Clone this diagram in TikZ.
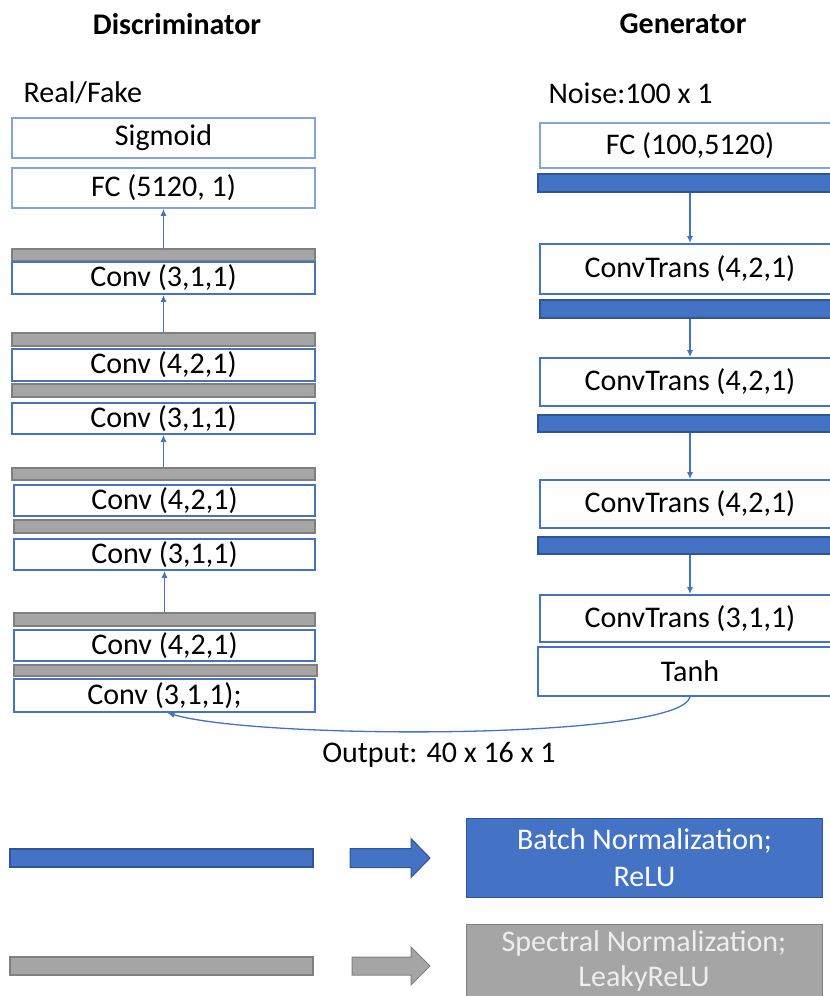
\documentclass[tikz,border=0pt]{standalone}
\usepackage{fontspec}
\setmainfont{Carlito}
\usetikzlibrary{arrows.meta}
\definecolor{netblue}{HTML}{4472C4}
\definecolor{netblueedge}{HTML}{2F5597}
\definecolor{lightedge}{RGB}{127,165,218}
\definecolor{normgray}{HTML}{A5A5A5}
\definecolor{grayedge}{HTML}{7F7F7F}
\definecolor{paletext}{HTML}{EEEEEE}
\tikzset{
  layer/.style={draw=netblue, line width=1.8pt, fill=white, inner sep=0pt,
    font=\fontsize{30}{36}\selectfont},
  edgelayer/.style={layer, draw=lightedge},
  bnbar/.style={draw=netblueedge, line width=1.2pt, fill=netblue, inner sep=0pt},
  snbar/.style={draw=grayedge, line width=1.2pt, fill=normgray, inner sep=0pt},
  flow/.style={draw=netblue, line width=1.3pt, -{Latex[length=7pt,width=6pt]}},
  title/.style={font=\fontsize{30}{36}\selectfont\bfseries},
  caption/.style={font=\fontsize{30}{36}\selectfont},
}
\begin{document}
\begin{tikzpicture}[x=1pt,y=-1pt]
\useasboundingbox (0,0) rectangle (830,996);

% headings and inputs/outputs
\node[title] (dtitle) at (177,24) {Discriminator};
\node[title] (gtitle) at (683,24) {Generator};
\node[caption, anchor=west] (realfake) at (20,93) {Real/Fake};
\node[caption, anchor=west] (noise) at (545,93) {Noise:100 x 1};
\node[caption] (outlabel) at (439,755) {Output: 40 x 16 x 1};

% discriminator stack
\node[edgelayer, minimum width=303pt, minimum height=40pt] (sig) at (163.5,138) {Sigmoid};
\node[edgelayer, minimum width=303pt, minimum height=40pt] (fcd) at (163.5,188) {FC (5120, 1)};
\node[snbar, minimum width=303pt, minimum height=12pt] (g1) at (163.5,255) {};
\node[layer, minimum width=303pt, minimum height=32pt] (c1) at (163.5,278) {Conv (3,1,1)};
\node[snbar, minimum width=303pt, minimum height=13pt] (g2) at (163.5,339.5) {};
\node[layer, minimum width=303pt, minimum height=32pt] (c2) at (163.5,365) {Conv (4,2,1)};
\node[snbar, minimum width=303pt, minimum height=13pt] (g3) at (163.5,390.5) {};
\node[layer, minimum width=303pt, minimum height=31pt] (c3) at (163.5,418.5) {Conv (3,1,1)};
\node[snbar, minimum width=303pt, minimum height=12pt] (g4) at (163.5,474) {};
\node[layer, minimum width=301pt, minimum height=31pt] (c4) at (164.5,500.5) {Conv (4,2,1)};
\node[snbar, minimum width=301pt, minimum height=13pt] (g5) at (164.5,526.5) {};
\node[layer, minimum width=301pt, minimum height=31pt] (c5) at (164.5,554.5) {Conv (3,1,1)};
\node[snbar, minimum width=301pt, minimum height=13pt] (g6) at (164.5,619.5) {};
\node[layer, minimum width=301pt, minimum height=31pt] (c6) at (164.5,645.5) {Conv (4,2,1)};
\node[snbar, minimum width=303pt, minimum height=11pt] (g7) at (165.5,670.5) {};
\node[layer, minimum width=301pt, minimum height=33pt] (c7) at (164.5,695.5) {Conv (3,1,1);};

\draw[flow] (g1.north) -- (fcd.south);
\draw[flow] (g2.north) -- (c1.south);
\draw[flow] (g4.north) -- (c3.south);
\draw[flow] (g6.north) -- (c5.south);

% generator stack (runs past the right edge)
\node[edgelayer, minimum width=300pt, minimum height=45pt] (fcg) at (690,145.5) {FC (100,5120)};
\node[bnbar, minimum width=304pt, minimum height=18pt] (b1) at (690,183) {};
\node[layer, minimum width=300pt, minimum height=50pt] (t1) at (690,269) {ConvTrans (4,2,1)};
\node[bnbar, minimum width=300pt, minimum height=18pt] (b2) at (690,309) {};
\node[layer, minimum width=300pt, minimum height=48pt] (t2) at (690,382) {ConvTrans (4,2,1)};
\node[bnbar, minimum width=304pt, minimum height=17pt] (b3) at (690,423.5) {};
\node[layer, minimum width=300pt, minimum height=48pt] (t3) at (690,504) {ConvTrans (4,2,1)};
\node[bnbar, minimum width=304pt, minimum height=17pt] (b4) at (690,545.5) {};
\node[layer, minimum width=300pt, minimum height=47pt] (t4) at (690,618.5) {ConvTrans (3,1,1)};
\node[layer, minimum width=304pt, minimum height=49pt] (tanh) at (690,671.5) {Tanh};

\draw[flow] (b1.south) -- (t1.north);
\draw[flow] (b2.south) -- (t2.north);
\draw[flow] (b3.south) -- (t3.north);
\draw[flow] (b4.south) -- (t4.north);

% generated sample fed to the discriminator
\draw[flow] (tanh.south) .. controls (680,740) and (260,740) .. ([xshift=3pt]c7.south);

% legend
\node[bnbar, minimum width=303pt, minimum height=18pt] (legbn) at (161.5,858) {};
\node[snbar, minimum width=303pt, minimum height=18pt] (legsn) at (161.5,966) {};
\coordinate (abn) at (350,858);
\coordinate (asn) at (352,966);
\draw[netblueedge, line width=1pt, fill=netblue]
  (abn) ++(0,-9.5) -- ++(61,0) -- ++(0,-10) -- (430,858) -- (411,877.5) -- ++(0,-10) -- ++(-61,0) -- cycle;
\draw[grayedge, line width=1pt, fill=normgray]
  (asn) ++(0,-9) -- ++(59,0) -- ++(0,-10) -- (430,966) -- (411,985) -- ++(0,-10) -- ++(-59,0) -- cycle;
\node[draw=netblueedge, line width=1pt, fill=netblue, minimum width=356pt, minimum height=79pt,
  inner sep=0pt, text=white, align=center, font=\fontsize{30}{37}\selectfont] (bnbox) at (644.5,857.5)
  {Batch Normalization;\\ReLU};
\node[draw=grayedge, line width=1pt, fill=normgray, minimum width=356pt, minimum height=90pt,
  inner sep=0pt, anchor=north] (snbox) at (644,924) {};
\node[text=paletext, align=center, font=\fontsize{30}{35}\selectfont] (sntext) at (644,960.5)
  {Spectral Normalization;\\LeakyReLU};
\end{tikzpicture}
\end{document}
